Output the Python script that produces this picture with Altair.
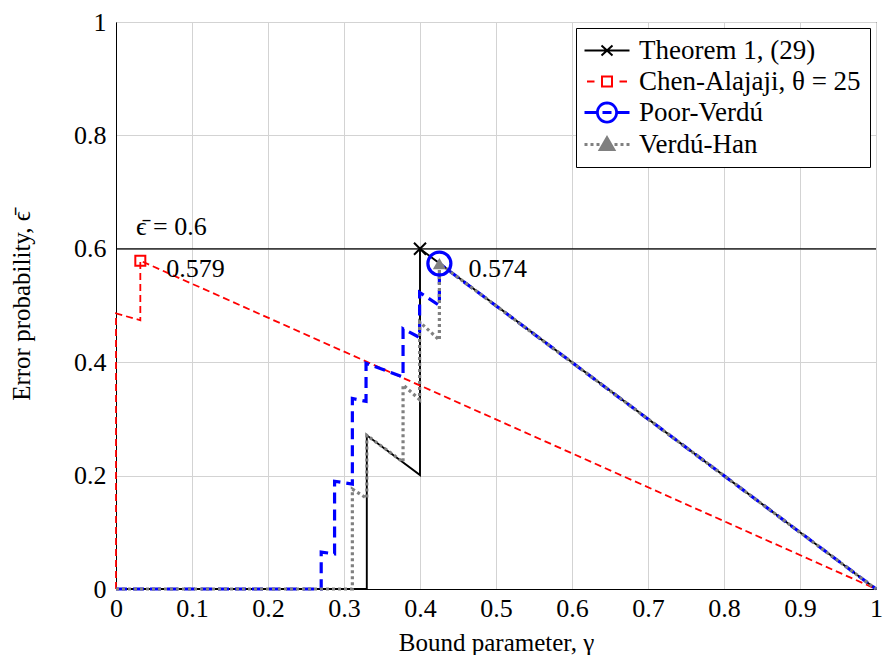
import math
import altair as alt
import pandas as pd

# ---------------- data ----------------
series_names = ["Theorem 1, (29)", "Chen-Alajaji, θ = 25", "Poor-Verdú", "Verdú-Han"]
series_colors = ["#000000", "#ff0000", "#0000ff", "#808080"]

gamma_thm = [0.0, 0.330, 0.330, 0.400, 0.400, 1.0]
eps_thm = [0.0, 0.0, 0.271, 0.201, 0.600, 0.0]

gamma_ca = [0.0, 0.0, 0.032, 0.032, 1.0]
eps_ca = [0.0, 0.486, 0.474, 0.579, 0.0]

gamma_pv = [0.0, 0.270, 0.270, 0.2876, 0.2876, 0.311, 0.311, 0.329, 0.329,
            0.3777, 0.3777, 0.3995, 0.3995, 0.4255, 0.4255, 1.0]
eps_pv = [0.0, 0.0, 0.065, 0.062, 0.190, 0.185, 0.336, 0.331, 0.398,
          0.374, 0.459, 0.4435, 0.523, 0.500, 0.574, 0.0]

gamma_vh = [0.0, 0.311, 0.311, 0.330, 0.330, 0.3777, 0.3777, 0.3995, 0.3995,
            0.4255, 0.4255, 1.0]
eps_vh = [0.0, 0.0, 0.176, 0.160, 0.271, 0.224, 0.360, 0.334, 0.471,
          0.439, 0.574, 0.0]

# one highlighted point per series (the maximum of each curve)
mark_gamma = [gamma_thm[4], gamma_ca[3], gamma_pv[14], gamma_vh[10]]
mark_eps = [eps_thm[4], eps_ca[3], eps_pv[14], eps_vh[10]]

threshold = [0.6]
threshold_label = ["ϵ̄ = 0.6"]

x_ticks = [0, 0.1, 0.2, 0.3, 0.4, 0.5, 0.6, 0.7, 0.8, 0.9, 1]
y_ticks = [0, 0.2, 0.4, 0.6, 0.8, 1]

# ---------------- tables ----------------
rows = []
for name, gs, es in zip(series_names,
                        [gamma_thm, gamma_ca, gamma_pv, gamma_vh],
                        [eps_thm, eps_ca, eps_pv, eps_vh]):
    for i, (g, e) in enumerate(zip(gs, es)):
        rows.append({"series": name, "idx": i, "gamma": g, "eps": e})
df = pd.DataFrame(rows)
df_marks = pd.DataFrame({"series": series_names, "gamma": mark_gamma, "eps": mark_eps})
df_thr = pd.DataFrame({"gamma": [0.0], "eps": threshold, "label": threshold_label})

FONT = "Liberation Serif"

# ---------------- legend symbol glyphs (line + marker as one path) ----------------
def u(px):
    return round((px - 14) / 10.0, 3)

def v(py):
    return round(py / 10.0, 3)

def seg(a, b, dy=0.0):
    return f"M{u(a)},{v(dy)}L{u(b)},{v(dy)}"

def thick(a, b):
    return seg(a, b, -0.6) + seg(a, b, 0.6)

def poly(pts):
    return "M" + "L".join(f"{u(x)},{v(y)}" for x, y in pts) + "Z"

def ring(r):
    return poly([(22.5 + r * math.cos(2 * math.pi * k / 32), r * math.sin(2 * math.pi * k / 32))
                 for k in range(32)])

def tri(s):
    return poly([(22.5, -1.5 - 6.0 * s), (22.5 + 7.5 * s, -1.5 + 7.0 * s), (22.5 - 7.5 * s, -1.5 + 7.0 * s)])

path_thm = seg(0, 45) + f"M{u(17)},{v(-5)}L{u(28)},{v(5)}M{u(17)},{v(5)}L{u(28)},{v(-5)}"
path_ca = seg(2.5, 10) + seg(35, 42.5) + poly([(17.5, -5), (27.5, -5), (27.5, 5), (17.5, 5)])
path_pv = thick(0, 12) + thick(18, 27) + thick(33, 45) + ring(10) + ring(9.2)
path_vh = ("".join(thick(a, a + 3) for a in [0, 6, 12, 30, 36, 42])
           + tri(1.0) + tri(0.72) + tri(0.45) + tri(0.2))

legend = alt.Legend(
    orient="top-right", offset=6,
    fillColor="white", strokeColor="black", padding=9,
    labelFont=FONT, labelFontSize=27, labelColor="black", labelLimit=400,
    labelOffset=27, rowPadding=3, symbolSize=400, symbolStrokeWidth=2,
)
legend_scale_kw = dict(domain=series_names)

axis_common = dict(
    format="~g", labelFont=FONT, labelFontSize=26, labelColor="black",
    titleFont=FONT, titleFontSize=25, titleColor="black", titleFontWeight="normal",
    grid=True, gridColor="#d3d3d3", gridWidth=1, ticks=False,
    domainColor="black", domainWidth=1, labelFlush=False,
)

x_enc = alt.X("gamma:Q", title="Bound parameter, γ",
              scale=alt.Scale(domain=[0, 1], nice=False, zero=False),
              axis=alt.Axis(values=x_ticks, labelPadding=6, titlePadding=9, **axis_common))
y_enc = alt.Y("eps:Q", title="Error probability, ϵ̄",
              scale=alt.Scale(domain=[0, 1], nice=False, zero=False),
              axis=alt.Axis(values=y_ticks, labelPadding=10, titlePadding=39, **axis_common))

base = alt.Chart(df)
line_styles = [
    dict(color=series_colors[0], strokeWidth=1.9),
    dict(color=series_colors[1], strokeWidth=1.8, strokeDash=[7, 4]),
    dict(color=series_colors[2], strokeWidth=3.2, strokeDash=[11, 6]),
    dict(color=series_colors[3], strokeWidth=3.2, strokeDash=[3, 3]),
]

layers = [alt.Chart(df_thr).mark_rule(color="black", strokeWidth=1.3).encode(y="eps:Q")]
for name, st in zip(series_names, line_styles):
    layers.append(
        base.transform_filter(alt.datum.series == name)
        .mark_line(**st)
        .encode(x=x_enc, y=y_enc, order="idx:Q")
    )

mk = alt.Chart(df_marks)
layers.append(mk.transform_filter(alt.datum.series == series_names[0])
              .mark_point(shape="M-1,-1L1,1M-1,1L1,-1", size=144, filled=False,
                          color="black", strokeWidth=2, opacity=1)
              .encode(x=x_enc, y=y_enc))
layers.append(mk.transform_filter(alt.datum.series == series_names[1])
              .mark_point(shape="square", size=100, filled=False,
                          color="#ff0000", strokeWidth=2, opacity=1)
              .encode(x=x_enc, y=y_enc))
layers.append(mk.transform_filter(alt.datum.series == series_names[2])
              .mark_point(shape="circle", size=530, filled=False,
                          color="#0000ff", strokeWidth=3.2, opacity=1)
              .encode(x=x_enc, y=y_enc))
layers.append(mk.transform_filter(alt.datum.series == series_names[3])
              .mark_point(shape="triangle-up", size=170, filled=True,
                          color="#808080", opacity=1)
              .encode(x=x_enc, y=y_enc))

# invisible layer that only carries the legend (line + marker glyph per series)
layers.append(
    mk.mark_point(opacity=0)
    .encode(
        x=x_enc, y=y_enc,
        stroke=alt.Stroke("series:N", title=None, legend=legend,
                          scale=alt.Scale(range=series_colors, **legend_scale_kw)),
        shape=alt.Shape("series:N", title=None, legend=legend,
                        scale=alt.Scale(range=[path_thm, path_ca, path_pv, path_vh],
                                        **legend_scale_kw)),
    )
)

# annotations
layers.append(alt.Chart(df_thr).mark_text(font=FONT, fontSize=26, align="left",
                                          baseline="alphabetic", dx=20, dy=-14, color="black")
              .encode(x=x_enc, y=y_enc, text="label:N"))
layers.append(mk.transform_filter(alt.datum.series == series_names[1])
              .mark_text(font=FONT, fontSize=26, align="left", baseline="alphabetic",
                         dx=26, dy=16, color="black")
              .encode(x=x_enc, y=y_enc, text=alt.Text("eps:Q", format=".3f")))
layers.append(mk.transform_filter(alt.datum.series == series_names[2])
              .mark_text(font=FONT, fontSize=26, align="left", baseline="alphabetic",
                         dx=29, dy=13, color="black")
              .encode(x=x_enc, y=y_enc, text=alt.Text("eps:Q", format=".3f")))

chart = alt.layer(*layers).properties(
    width=760, height=567,
    autosize=alt.AutoSizeParams(type="none"),
    padding={"left": 108, "top": 14, "right": 7, "bottom": 66},
    background="white",
).configure_view(stroke="black", strokeWidth=1)

chart.save("out.html", embed_options={"renderer": "svg", "actions": False})
